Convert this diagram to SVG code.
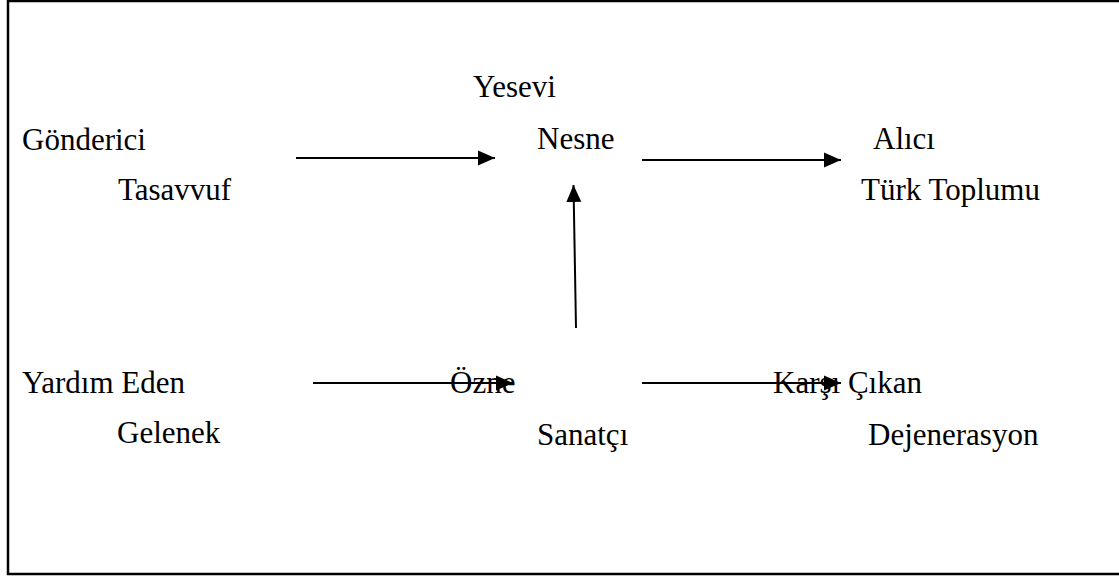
<svg xmlns="http://www.w3.org/2000/svg" width="1119" height="576" viewBox="0 0 1119 576">
<style>
.t{font-family:"Liberation Serif","Times New Roman",serif;font-size:31px;fill:#000}
.c{stroke:#000;stroke-width:2;fill:none}
</style>
<defs>
<marker id="ah" markerUnits="userSpaceOnUse" markerWidth="18" markerHeight="18" viewBox="0 0 18 18" refX="17" refY="9" orient="auto">
<path d="M0,1.5 L17,9 L0,16.5 Z" fill="#000"/>
</marker>
</defs>
<rect x="8" y="1" width="1120" height="573" fill="#fff" stroke="#000" stroke-width="2.5"/>
<g id="connectors">
<line class="c" x1="296" y1="158" x2="495" y2="158" marker-end="url(#ah)"/>
<line class="c" x1="642" y1="160" x2="841" y2="160" marker-end="url(#ah)"/>
<line class="c" x1="576" y1="328" x2="573.5" y2="185" marker-end="url(#ah)"/>
<line class="c" x1="313" y1="383" x2="513" y2="383" marker-end="url(#ah)"/>
<line class="c" x1="642" y1="383" x2="841" y2="383" marker-end="url(#ah)"/>
</g>
<g id="gonderici"><text class="t" x="22" y="150">Gönderici</text><text class="t" x="118" y="200">Tasavvuf</text></g>
<g id="nesne"><text class="t" x="473" y="97">Yesevi</text><text class="t" x="537" y="149">Nesne</text></g>
<g id="alici"><text class="t" x="873" y="149">Alıcı</text><text class="t" x="861" y="200">Türk Toplumu</text></g>
<g id="yardim"><text class="t" x="22" y="393">Yardım Eden</text><text class="t" x="117" y="443">Gelenek</text></g>
<g id="ozne"><text class="t" x="450" y="393">Özne</text><text class="t" x="537" y="445">Sanatçı</text></g>
<g id="karsi"><text class="t" x="773" y="393">Karşı Çıkan</text><text class="t" x="868" y="445">Dejenerasyon</text></g>
</svg>
